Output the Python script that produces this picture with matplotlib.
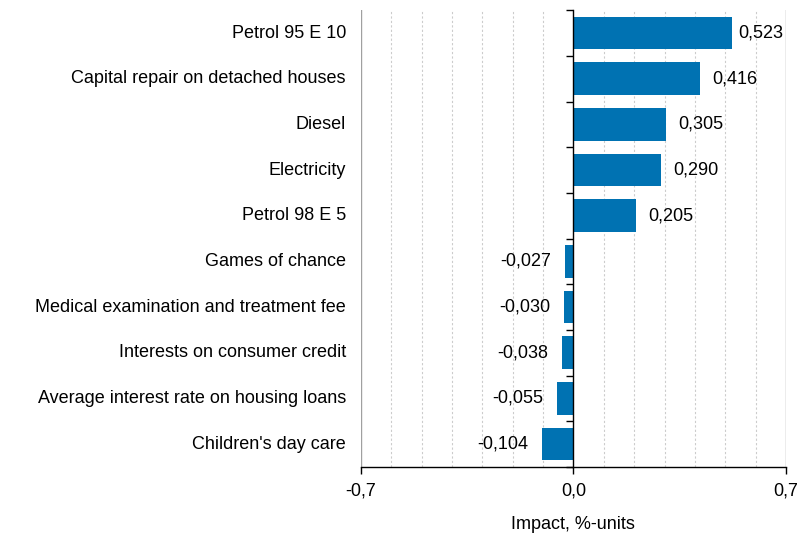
import numpy as np
import matplotlib.pyplot as plt

plt.rcParams['font.family'] = ['Liberation Sans', 'DejaVu Sans']

categories = ["Petrol 95 E 10", "Capital repair on detached houses", "Diesel",
              "Electricity", "Petrol 98 E 5", "Games of chance",
              "Medical examination and treatment fee",
              "Interests on consumer credit",
              "Average interest rate on housing loans", "Children's day care"]
values = [0.523, 0.416, 0.305, 0.290, 0.205, -0.027, -0.030, -0.038, -0.055, -0.104]
xticks = [-0.7, 0.0, 0.7]
xtick_labels = ["-0,7", "0,0", "0,7"]

FS = 13

fig = plt.figure(figsize=(8, 5.36), dpi=100)
ax = fig.add_axes([0.451, 0.129, 0.5315, 0.852])

y = np.arange(len(categories))
ax.barh(y, values, height=0.72, color='#0072b2', zorder=3)

# grid
for g in np.arange(-6, 7) / 10:
    if abs(g) > 1e-9:
        ax.axvline(g, color='#cccccc', lw=0.8, ls=(0, (2, 2)), zorder=1)
for g in (-0.7, 0.7):
    ax.axvline(g, color='#a0a0a0', lw=1.0, zorder=1)

ax.set_xlim(-0.7, 0.7)
ax.set_ylim(len(categories) - 0.5, -0.5)

for s in ('top', 'right'):
    ax.spines[s].set_visible(False)
ax.spines['left'].set_position(('data', 0))
ax.spines['left'].set_zorder(4)
ax.spines['left'].set_linewidth(1.0)
ax.spines['bottom'].set_linewidth(1.0)

ax.set_yticks(np.arange(len(categories) + 1) - 0.5)
ax.set_yticklabels([])
ax.tick_params(axis='y', length=5, width=1.0, direction='out')

ax.set_xticks(xticks)
ax.set_xticklabels(xtick_labels, fontsize=FS)
ax.tick_params(axis='x', length=5, width=1.0, pad=6)

trans = ax.get_yaxis_transform()
for i, c in enumerate(categories):
    ax.text(-0.035, i, c, transform=trans, ha='right', va='center', fontsize=FS)

for i, v in enumerate(values):
    lab = f"{v:.3f}".replace('.', ',')
    if v >= 0:
        if v + 0.04 + 0.16 > 0.7:
            ax.text(0.69, i, lab, ha='right', va='center', fontsize=FS)
        else:
            ax.text(v + 0.04, i, lab, ha='left', va='center', fontsize=FS)
    else:
        ax.text(v - 0.045, i, lab, ha='right', va='center', fontsize=FS)

ax.set_xlabel("Impact, %-units", fontsize=FS, labelpad=12)

fig.savefig("out.png", dpi=100)
